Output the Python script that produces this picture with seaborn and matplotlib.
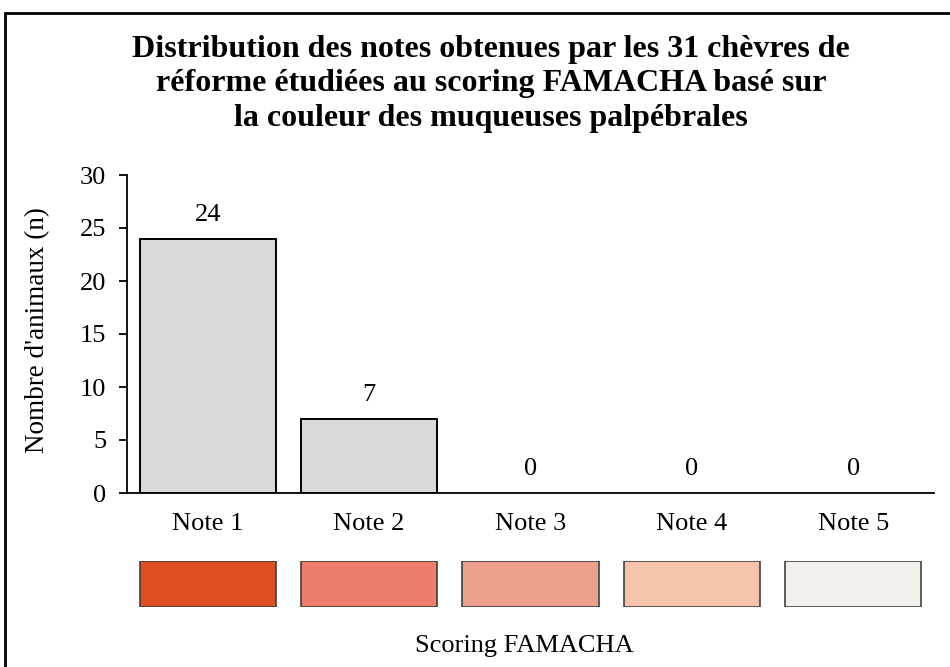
import matplotlib
matplotlib.use("Agg")
import matplotlib.pyplot as plt
import matplotlib.patches as mpatches
import seaborn as sns
import pandas as pd

notes = ["Note 1", "Note 2", "Note 3", "Note 4", "Note 5"]
effectifs = [24, 7, 0, 0, 0]
couleurs_famacha = ["#E04E22", "#EC7D68", "#EBA08C", "#F5C4AA", "#F3EFEB"]
y_ticks = [0, 5, 10, 15, 20, 25, 30]

titre = ("Distribution des notes obtenues par les 31 chèvres de\n"
         "réforme étudiées au scoring FAMACHA basé sur\n"
         "la couleur des muqueuses palpébrales")

sns.set_style("white")
plt.rcParams["font.family"] = ["Liberation Serif", "DejaVu Serif"]
plt.rcParams["text.color"] = "black"
plt.rcParams["xtick.color"] = "black"
plt.rcParams["ytick.color"] = "black"

df = pd.DataFrame({"note": notes, "n": effectifs})

fig = plt.figure(figsize=(9.5, 6.67), dpi=100)

# cadre autour de la figure
fig.patches.append(mpatches.Rectangle((5 / 950, -0.05), 1.2, 1 - 13 / 667 + 0.05,
                                      transform=fig.transFigure, fill=False,
                                      edgecolor="black", linewidth=2))

ax = fig.add_axes([127 / 950, 174 / 667, 807 / 950, 318 / 667])
sns.barplot(data=df, x="note", y="n", color="#D9D9D9", edgecolor="black",
            linewidth=1.4, width=0.845, saturation=1, ax=ax)
# pas de contour pour les barres vides
for p in ax.patches:
    if p.get_height() == 0:
        p.set_linewidth(0)
ax.set_xlim(-0.5, 4.5)
ax.set_ylim(0, 30)
ax.set_yticks(y_ticks)
for i, v in enumerate(effectifs):
    ax.annotate(str(v), (i, v), xytext=(0, 17), textcoords="offset points",
                ha="center", va="center", fontsize=19)

for s in ["top", "right"]:
    ax.spines[s].set_visible(False)
for s in ["left", "bottom"]:
    ax.spines[s].set_color("black")
    ax.spines[s].set_linewidth(1.3)
ax.tick_params(axis="y", left=True, length=6, width=1.3, labelsize=19, pad=9)
ax.tick_params(axis="x", bottom=False, labelsize=19, pad=11)
ax.set_xlabel("")
ax.set_ylabel("")

fig.text(38 / 950, 1 - 330 / 667, "Nombre d'animaux (n)", rotation=90,
         ha="center", va="center", fontsize=19.5)
fig.text(491 / 950, 1 - 84 / 667, titre, ha="center", va="center",
         fontsize=23, fontweight="bold", linespacing=1.24)

# bande de couleurs FAMACHA
ax2 = fig.add_axes([127 / 950, 60 / 667, 807 / 950, 46 / 667])
for i, c in enumerate(couleurs_famacha):
    ax2.bar(i, 1, width=0.845, color=c, edgecolor="#404040", linewidth=1.2)
ax2.set_xlim(-0.5, 4.5)
ax2.set_ylim(0, 1)
ax2.axis("off")

fig.text(524 / 950, 1 - 646 / 667, "Scoring FAMACHA", ha="center", va="center",
         fontsize=19)

fig.savefig("out.png", dpi=100)
